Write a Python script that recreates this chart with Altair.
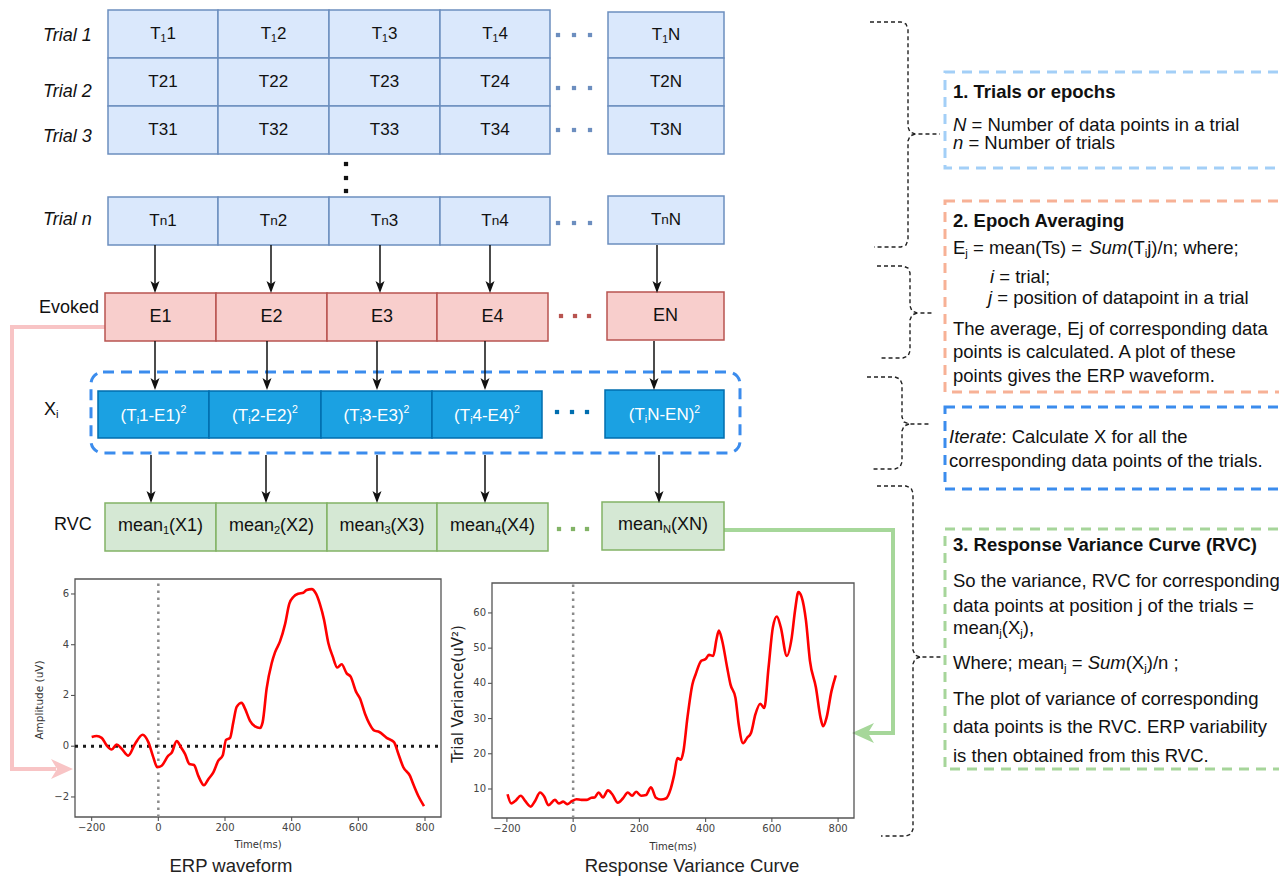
import altair as alt
import pandas as pd

# ---------------- values ----------------
ERP_TIME = [-200, -185, -170, -155, -140, -125, -110, -90, -70, -47, -30, -15, -3, 10, 30, 40, 55, 68, 80,
            93, 107, 120, 137, 150, 165, 180, 193, 203, 215, 225, 235, 250, 260, 275, 290, 305, 313, 325,
            340, 350, 365, 380, 393, 405, 420, 435, 445, 460, 473, 485, 497, 510, 523, 537, 550, 565, 577,
            593, 605, 620, 633, 647, 663, 685, 707, 720, 735, 755, 765, 780, 797]
ERP_AMP = [0.36, 0.40, 0.33, 0.03, -0.13, 0.07, -0.10, -0.37, 0.09, 0.45, 0.16, -0.44, -0.83, -0.77, -0.37,
           -0.26, 0.20, -0.04, -0.30, -0.70, -0.74, -1.17, -1.54, -1.30, -1.03, -0.57, -0.37, 0.25, 0.32,
           0.95, 1.55, 1.71, 1.48, 1.00, 0.78, 0.72, 0.95, 2.28, 3.27, 3.70, 4.13, 4.80, 5.62, 5.88, 6.01,
           6.05, 6.16, 6.19, 6.01, 5.59, 4.99, 4.07, 3.54, 3.10, 3.23, 2.87, 2.74, 2.15, 1.88, 1.28, 0.89,
           0.62, 0.56, 0.33, 0.16, -0.30, -0.83, -1.17, -1.50, -1.96, -2.36]

RVC_TIME = [-198, -187, -175, -158, -145, -128, -115, -100, -87, -75, -55, -43, -30, -17, -3, 10, 25, 40,
            55, 65, 77, 90, 105, 118, 135, 150, 165, 178, 190, 205, 220, 235, 250, 265, 280, 295, 305, 315,
            325, 333, 345, 360, 370, 387, 400, 410, 423, 433, 440, 450, 465, 475, 490, 500, 513, 525, 537,
            550, 565, 577, 590, 603, 615, 627, 645, 660, 670, 680, 690, 703, 715, 733, 747, 755, 765, 780, 793]
RVC_VAR = [8.5, 5.9, 6.6, 8.1, 6.6, 5.0, 6.6, 9.0, 7.8, 5.4, 6.9, 5.9, 6.4, 5.7, 6.6, 7.1, 6.9, 6.9, 7.5,
           7.6, 9.0, 7.6, 9.6, 8.5, 6.1, 7.3, 9.0, 8.1, 9.2, 8.1, 8.3, 10.5, 7.5, 7.0, 7.3, 10.2, 14.0,
           18.8, 18.3, 20.7, 30.2, 39.7, 42.6, 46.4, 46.9, 48.1, 47.8, 52.6, 55.0, 52.1, 44.5, 39.7, 35.9,
           28.3, 23.0, 24.5, 25.9, 31.1, 34.2, 33.0, 44.5, 55.9, 59.0, 55.9, 47.8, 53.0, 60.7, 65.9, 64.5,
           57.8, 46.4, 38.8, 30.2, 27.8, 30.2, 37.8, 42.3]

ERP_X_TICKS = [-200, 0, 200, 400, 600, 800]
ERP_Y_TICKS = [-2, 0, 2, 4, 6]
RVC_X_TICKS = [-200, 0, 200, 400, 600, 800]
RVC_Y_TICKS = [10, 20, 30, 40, 50, 60]

# ---------------- diagram text content ----------------
COLUMNS = ["1", "2", "3", "4", "N"]
TRIAL_LABELS = ["Trial 1", "Trial 2", "Trial 3", "Trial n"]

SANS = "Liberation Sans"
MPL = "DejaVu Sans"

# ---------------- canvas ----------------
W, H = 1271, 870
M = 8
CX = alt.Scale(domain=[M, M + W], range=[0, W], nice=False, zero=False)
CY = alt.Scale(domain=[M, M + H], range=[0, H], nice=False, zero=False)
EX = alt.Scale(domain=[-250, 848], range=[75 - M, 441 - M], nice=False, zero=False)
EY = alt.Scale(domain=[-2.79, 6.59], range=[817 - M, 579 - M], nice=False, zero=False)
RX = alt.Scale(domain=[-245, 848], range=[492 - M, 854 - M], nice=False, zero=False)
RY = alt.Scale(domain=[1.76, 68.5], range=[818 - M, 583 - M], nice=False, zero=False)


def X(f, s=CX):
    return alt.X(f, type="quantitative", scale=s, axis=None)


def Y(f, s=CY):
    return alt.Y(f, type="quantitative", scale=s, axis=None)


# Arial / Liberation Sans advance widths (per 1000 em)
_W = {' ': 278, '(': 333, ')': 333, ',': 278, '-': 333, '.': 278, '/': 278, ':': 278, ';': 278,
      '=': 584, '²': 333}
for _c in '0123456789':
    _W[_c] = 556
_W.update(dict(zip('abcdefghijklmnopqrstuvwxyz',
                   [556, 556, 500, 556, 556, 278, 556, 556, 222, 222, 500, 222, 833, 556, 556, 556, 556,
                    333, 500, 278, 556, 500, 722, 500, 500, 500])))
_W.update(dict(zip('ABCDEFGHIJKLMNOPQRSTUVWXYZ',
                   [667, 667, 722, 722, 667, 611, 778, 722, 278, 500, 667, 556, 833, 722, 778, 667, 778,
                    722, 667, 611, 722, 667, 944, 667, 667, 611])))


def tw(s, size):
    return sum(_W.get(c, 556) for c in s) * size / 1000.0


texts = []


def rich(x, y, segs, size, color="#111", align="left", font=SANS):
    parts = []
    for text, kind in segs:
        if kind in ("sub", "sup"):
            s = size * 0.62
        elif kind == "small":
            s = size * 0.8
        else:
            s = size
        dy = {"sub": size * 0.3, "sup": -size * 0.3}.get(kind, 0)
        parts.append((text, kind, s, tw(text, s), dy))
    total = sum(p[3] for p in parts)
    x0 = x - total / 2 if align == "center" else (x - total if align == "right" else x)
    for text, kind, s, w, dy in parts:
        lead = len(text) - len(text.lstrip(" "))
        texts.append(dict(x=x0 + tw(" " * lead, s), y=y + dy, text=text.strip(" "), size=s,
                          style="italic" if kind == "i" else "normal",
                          weight="bold" if kind == "b" else "normal",
                          color=color, font=font, align="left", angle=0))
        x0 += w


def plain(x, y, text, size, color="#111", font=SANS, align="center", angle=0, style="normal"):
    texts.append(dict(x=x, y=y, text=text, size=size, style=style, weight="normal", color=color,
                      font=font, align=align, angle=angle))


# ---------------- grid of boxes ----------------
boxes = []
box_rows = [
    # (left edges of 4 boxes + right edge, top, bottom, N-box (x0,x1,y0,y1), fill, stroke, kind)
    ([108, 218, 329, 440, 550], 10, 58, (608, 724, 12, 58), "#dae8fc", "#6c8ebf", "T1"),
    ([108, 218, 329, 440, 550], 58, 106, (608, 724, 58, 106), "#dae8fc", "#6c8ebf", "T2"),
    ([108, 218, 329, 440, 550], 106, 154, (608, 724, 106, 154), "#dae8fc", "#6c8ebf", "T3"),
    ([108, 218, 329, 440, 550], 197, 245, (608, 724, 196, 244), "#dae8fc", "#6c8ebf", "Tn"),
    ([105, 216, 327, 437, 548], 293, 341, (607, 724, 292, 340), "#f8cecc", "#b85450", "E"),
    ([98, 209, 321, 432, 542], 391, 438, (605, 724, 390, 438), "#1ba1e2", "#006eaf", "X"),
    ([105, 216, 327, 437, 548], 503, 551, (602, 724, 502, 550), "#d5e8d4", "#82b366", "R"),
]
for edges, y0, y1, nb, fill, stroke, kind in box_rows:
    cells = [(edges[i], edges[i + 1], y0, y1) for i in range(4)] + [nb]
    for (a, b, c, d), col in zip(cells, COLUMNS):
        boxes.append(dict(x=a, x2=b, y=c, y2=d, fill=fill, stroke=stroke))
        cxm, cym = (a + b) / 2, (c + d) / 2
        if kind == "T1":
            rich(cxm, cym, [("T", "n"), ("1", "sub"), (col, "n")], 17, align="center")
        elif kind in ("T2", "T3"):
            rich(cxm, cym, [("T" + kind[1] + col, "n")], 17, align="center")
        elif kind == "Tn":
            rich(cxm, cym, [("T", "n"), ("n", "small"), (col, "n")], 17, align="center")
        elif kind == "E":
            rich(cxm, cym, [("E" + col, "n")], 18, align="center")
        elif kind == "X":
            rich(cxm, cym + 1, [("(T", "n"), ("i", "sub"), (col + "-E" + col + ")", "n"), ("2", "sup")], 17,
                 color="#ffffff", align="center")
        else:
            rich(cxm, cym - 1, [("mean", "n"), (col, "sub"), ("(X" + col + ")", "n")], 18, align="center")

# row labels
for lab, yy in zip(TRIAL_LABELS, [36, 92, 137, 220]):
    rich(93, yy, [(lab, "i")], 18, align="right")
rich(99, 308, [("Evoked", "n")], 18, align="right")
rich(44, 410, [("X", "n"), ("i", "sub")], 18)
rich(92, 525, [("RVC", "n")], 18, align="right")

# ---------------- dots ----------------
dots = []
for yy in [35, 88, 130, 223]:
    for xx in [558, 574, 590]:
        dots.append(dict(x=xx, y=yy, c="#6c8ebf"))
for xx in [561, 575, 589]:
    dots.append(dict(x=xx, y=316, c="#b85450"))
for xx in [557, 572, 587]:
    dots.append(dict(x=xx, y=412, c="#006eaf"))
for xx in [559, 573, 587]:
    dots.append(dict(x=xx, y=529, c="#82b366"))
for yy in [164, 178, 191]:
    dots.append(dict(x=346, y=yy, c="#111111"))

# ---------------- arrows ----------------
arrows = []
for xs, y0, y1 in [([155, 271, 380, 490, 657], 245, 293),
                   ([155, 267, 377, 485, 654], 341, 390),
                   ([151, 266, 377, 485, 659], 455, 503)]:
    for xx in xs:
        arrows.append(dict(x=xx, y=y0, y2=y1 - 8, hy=y1 - 6))

# ---------------- connectors & braces ----------------
conn = []
for pid, col, pts in [("pink", "#f8c4c5", [(105, 327), (12, 327), (12, 769), (56, 769)]),
                      ("green", "#a6d79a", [(724, 530), (893, 530), (893, 733), (868, 733)])]:
    for i, (a, b) in enumerate(pts):
        conn.append(dict(id=pid, ord=i, x=a, y=b, c=col))
heads = [dict(x=62, y=769, c="#f8c4c5", shape="M1,0L-1,-0.9L-0.45,0L-1,0.9Z"),
         dict(x=863, y=733, c="#a6d79a", shape="M-1,0L1,-0.9L0.45,0L1,0.9Z")]

braces = []
for bid, (x0, xv, top, tip, bot, xt) in enumerate([(870, 908, 22, 134, 247, 940),
                                                  (877, 910, 266, 313, 358, 933),
                                                  (867, 902, 377, 424, 469, 930),
                                                  (877, 913, 486, 657, 836, 942)]):
    up = [(x0, top), (xv - 7, top), (xv - 2, top + 2), (xv, top + 7), (xv, tip - 7), (xv + 2, tip - 2),
          (xv + 7, tip), (xt, tip)]
    lo = [(xv + 7, tip), (xv + 2, tip + 2), (xv, tip + 7), (xv, bot - 7), (xv - 2, bot - 2), (xv - 7, bot),
          (x0 + 4, bot)]
    for part, pts in (("u", up), ("l", lo)):
        for i, (a, b) in enumerate(pts):
            braces.append(dict(id=f"{bid}{part}", ord=i, x=a, y=b))

# ---------------- right-hand notes ----------------
panels = [dict(x=945, x2=1300, y=72, y2=168, c="#a3cff7"),
          dict(x=945, x2=1300, y=201, y2=392, c="#f7b196"),
          dict(x=945, x2=1300, y=407, y2=489, c="#3b8ced"),
          dict(x=945, x2=1300, y=529, y2=769, c="#a6d59a")]
FS = 18.5
rich(953, 92, [("1. Trials or epochs", "b")], FS)
rich(953, 125, [("N", "i"), (" = Number of data points in a trial", "n")], FS)
rich(953, 143, [("n", "i"), (" = Number of trials", "n")], FS)
rich(953, 221, [("2. Epoch Averaging", "b")], FS)
rich(953, 248, [("E", "n"), ("j", "sub"), (" = mean(Ts) = ", "n"), ("Sum", "i"), ("(T", "n"), ("i", "sub"),
                ("j)/n;  where;", "n")], FS)
rich(990, 277, [("i", "i"), (" = trial;", "n")], FS)
rich(988, 298, [("j", "i"), (" = position of datapoint in a trial", "n")], FS)
rich(953, 329, [("The average, Ej of corresponding data", "n")], FS)
rich(953, 352, [("points is calculated. A plot of these", "n")], FS)
rich(953, 376, [("points gives the ERP waveform.", "n")], FS)
rich(949, 437, [("Iterate", "i"), (": Calculate X for all the", "n")], FS)
rich(949, 461, [("corresponding data points of the trials.", "n")], FS)
rich(953, 545, [("3. Response Variance Curve (RVC)", "b")], FS)
rich(953, 581, [("So the variance, RVC for corresponding", "n")], FS)
rich(953, 606, [("data points at position j of the trials =", "n")], FS)
rich(953, 628, [("mean", "n"), ("j", "sub"), ("(X", "n"), ("j", "sub"), ("),", "n")], FS)
rich(953, 663, [("Where; mean", "n"), ("j", "sub"), (" = ", "n"), ("Sum", "i"), ("(X", "n"), ("j", "sub"),
                (")/n ;", "n")], FS)
rich(953, 699, [("The plot of variance of corresponding", "n")], FS)
rich(953, 727, [("data points is the RVC. ERP variability", "n")], FS)
rich(953, 756, [("is then obtained from this RVC.", "n")], FS)

# plot captions / axis titles
plain(258, 845, "Time(ms)", 10, color="#333", font=MPL)
plain(40, 700, "Amplitude (uV)", 10.5, color="#333", font=MPL, angle=270)
plain(673, 847, "Time(ms)", 10, color="#333", font=MPL)
plain(458, 694, "Trial Variance(uV²)", 15, color="#222", font=MPL, angle=270)
plain(231, 866, "ERP waveform", 18.5, color="#222")
plain(692, 866, "Response Variance Curve", 18.5, color="#222")

# ---------------- diagram layers ----------------
D = []
D.append(alt.Chart(pd.DataFrame(panels)).mark_rect(fillOpacity=0, strokeWidth=3, strokeDash=[10, 7]).encode(
    x=X("x"), x2="x2", y=Y("y"), y2="y2", stroke=alt.Stroke("c:N", scale=None)))
D.append(alt.Chart(pd.DataFrame([dict(x=91, x2=740, y=372, y2=453)])).mark_rect(
    fillOpacity=0, stroke="#3b8ced", strokeWidth=3, strokeDash=[11, 7], cornerRadius=12).encode(
    x=X("x"), x2="x2", y=Y("y"), y2="y2"))
D.append(alt.Chart(pd.DataFrame(braces)).mark_line(color="#222", strokeWidth=1.4, strokeDash=[4, 3]).encode(
    x=X("x"), y=Y("y"), detail="id:N", order="ord:Q"))
D.append(alt.Chart(pd.DataFrame(conn)).mark_line(strokeWidth=4).encode(
    x=X("x"), y=Y("y"), detail="id:N", order="ord:Q", color=alt.Color("c:N", scale=None)))
for h in heads:
    D.append(alt.Chart(pd.DataFrame([h])).mark_point(shape=h["shape"], filled=True, size=484, opacity=1,
                                                     strokeWidth=0).encode(
        x=X("x"), y=Y("y"), fill=alt.Fill("c:N", scale=None)))
D.append(alt.Chart(pd.DataFrame(boxes)).mark_rect(strokeWidth=1.5).encode(
    x=X("x"), x2="x2", y=Y("y"), y2="y2", fill=alt.Fill("fill:N", scale=None),
    stroke=alt.Stroke("stroke:N", scale=None)))
D.append(alt.Chart(pd.DataFrame(arrows)).mark_rule(color="#111", strokeWidth=1.5).encode(
    x=X("x"), y=Y("y"), y2="y2"))
D.append(alt.Chart(pd.DataFrame(arrows)).mark_point(shape="M0,1L-0.75,-1L0,-0.5L0.75,-1Z", filled=True,
                                                    size=144, opacity=1, color="#111", strokeWidth=0).encode(
    x=X("x"), y=Y("hy")))
D.append(alt.Chart(pd.DataFrame(dots)).mark_square(size=18, opacity=1).encode(
    x=X("x"), y=Y("y"), color=alt.Color("c:N", scale=None)))

tdf = pd.DataFrame(texts)
for (font, style, weight, align, angle), g in tdf.groupby(["font", "style", "weight", "align", "angle"]):
    D.append(alt.Chart(g.reset_index(drop=True)).mark_text(
        font=font, fontStyle=style, fontWeight=weight, align=align, baseline="middle", angle=int(angle)).encode(
        x=X("x"), y=Y("y"), text="text:N", size=alt.Size("size:Q", scale=None),
        color=alt.Color("color:N", scale=None)))
diagram = alt.layer(*D)


# ---------------- small line charts ----------------
def small_plot(tt, vv, sx, sy, xticks, yticks, left, bottom, zero_line):
    xd, yd = sx.domain, sy.domain
    L = []
    L.append(alt.Chart(pd.DataFrame([dict(x0=xd[0], x1=xd[1], y0=yd[0], y1=yd[1])])).mark_rect(
        fillOpacity=0, stroke="#555", strokeWidth=1.3).encode(
        x=X("x0", sx), x2="x1", y=Y("y0", sy), y2="y1"))
    L.append(alt.Chart(pd.DataFrame([dict(x=0, y0=yd[0], y1=yd[1])])).mark_rule(
        color="#8a8a8a", strokeWidth=2.5, strokeDash=[2.5, 4.5]).encode(x=X("x", sx), y=Y("y0", sy), y2="y1"))
    if zero_line:
        L.append(alt.Chart(pd.DataFrame([dict(x0=xd[0], x1=xd[1], y=0)])).mark_rule(
            color="#1a1a1a", strokeWidth=3, strokeDash=[3, 5]).encode(x=X("x0", sx), x2="x1", y=Y("y", sy)))
    L.append(alt.Chart(pd.DataFrame({"t": tt, "v": vv})).mark_line(
        color="#ff0000", strokeWidth=2.6, interpolate="monotone").encode(x=X("t", sx), y=Y("v", sy)))
    xt = pd.DataFrame({"t": xticks, "lab": [str(v).replace("-", "\u2212") for v in xticks]})
    yt = pd.DataFrame({"v": yticks, "lab": [str(v).replace("-", "\u2212") for v in yticks]})
    L.append(alt.Chart(xt).mark_rule(color="#555", strokeWidth=1.1).encode(
        x=X("t", sx), y=alt.value(bottom - M), y2=alt.value(bottom - M + 4)))
    L.append(alt.Chart(xt).mark_text(font=MPL, fontSize=10, color="#444", baseline="top").encode(
        x=X("t", sx), y=alt.value(bottom - M + 6), text="lab:N"))
    L.append(alt.Chart(yt).mark_rule(color="#555", strokeWidth=1.1).encode(
        y=Y("v", sy), x=alt.value(left - M - 4), x2=alt.value(left - M)))
    L.append(alt.Chart(yt).mark_text(font=MPL, fontSize=10, color="#444", align="right").encode(
        y=Y("v", sy), x=alt.value(left - M - 6), text="lab:N"))
    return alt.layer(*L)


erp = small_plot(ERP_TIME, ERP_AMP, EX, EY, ERP_X_TICKS, ERP_Y_TICKS, 75, 817, True)
rvc = small_plot(RVC_TIME, RVC_VAR, RX, RY, RVC_X_TICKS, RVC_Y_TICKS, 492, 818, False)

chart = alt.layer(diagram, erp, rvc).resolve_scale(x="independent", y="independent").properties(
    width=W, height=H, padding=0, autosize=alt.AutoSizeParams(type="none")
).configure_view(strokeWidth=0)

chart.save("out.html", embed_options={"renderer": "svg", "actions": False})
